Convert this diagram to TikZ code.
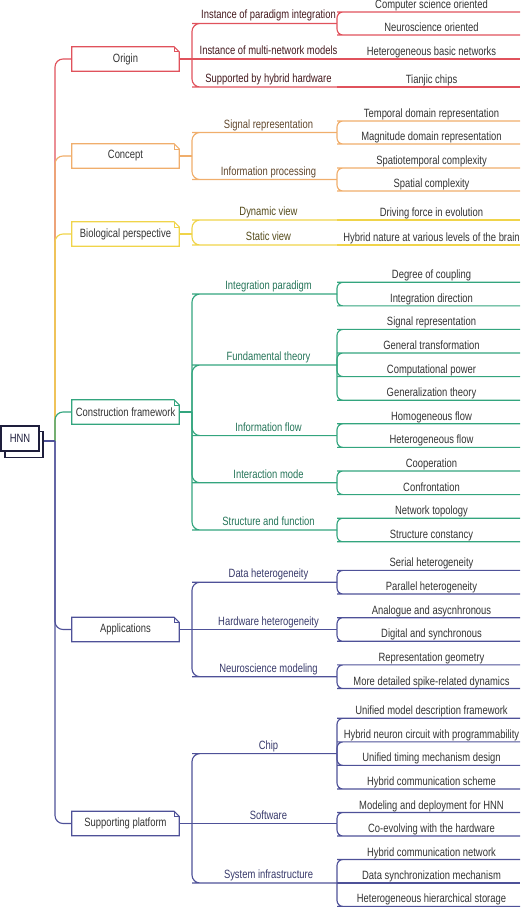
\documentclass[tikz,border=0pt]{standalone}
\usepackage{fontspec}
\setmainfont{Liberation Sans}[FakeStretch=0.785]
\definecolor{cred}{HTML}{E0525C}
\definecolor{corange}{HTML}{F0AE6C}
\definecolor{cyellow}{HTML}{F0D44A}
\definecolor{cgreen}{HTML}{33A57E}
\definecolor{cnavy}{HTML}{4E5198}
\definecolor{croot}{HTML}{1E1E3C}
\definecolor{leafc}{HTML}{333333}
\colorlet{credt}{cred!30!black}
\colorlet{coranget}{corange!40!black}
\colorlet{cyellowt}{cyellow!35!black}
\colorlet{cgreent}{cgreen!70!black}
\colorlet{cnavyt}{cnavy!70!black}
\newcommand\Ltwo[4]{\coordinate (#1-w) at (200,#2);\coordinate (#1-e) at (337,#2);\node[lab,text=#4] (#1) at (268.5,#2-4.5) {#3};}
\newcommand\Lthree[3]{\coordinate (#1-w) at (343,#2);\coordinate (#1-e) at (520,#2);\node[lab,text=leafc] (#1) at (431.5,#2-3.5) {#3};}
\newcommand\Kid[3]{\draw[ln=#3,rounded corners=6pt] (#1-e) |- (#2-w) -- (#2-e);}
\newcommand\Kidtwo[3]{\draw[ln=#3,rounded corners=8pt] (#1-b) |- (#2-w) -- (#2-e);}
\newcommand\Straight[3]{\draw[ln=#3] (#1-e) -- (#2-e);}
\newcommand\Fold[2]{\draw[ln=#2] (#1.south west) -- (#1.north west) -- ([xshift=-5pt]#1.north east) -- ([yshift=-5pt]#1.north east) -- (#1.south east) -- cycle;
\draw[draw=#2,line width=0.6pt] ([xshift=-5pt]#1.north east) -- ([xshift=-5pt,yshift=-5pt]#1.north east) -- ([yshift=-5pt]#1.north east);}
\begin{document}
\begin{tikzpicture}[x=1pt,y=-1pt,
  ln/.style={line width=1.15pt,draw=#1},
  lab/.style={anchor=base,inner sep=0pt,font=\fontsize{12}{14}\selectfont},
  tbox/.style={minimum width=107pt,minimum height=24pt,inner sep=0pt,font=\fontsize{12}{14}\selectfont,text=leafc},
  rootbox/.style={draw=croot,line width=1.1pt,minimum width=38pt,inner sep=0pt,font=\fontsize{12}{14}\selectfont,text=croot}]
\useasboundingbox (0,0) rectangle (520,907);

% root
\coordinate (trunk) at (55,441);
\node[rootbox,minimum height=26pt] (hnnback) at (24,444.5) {};
\node[rootbox,minimum height=25pt,fill=white] (hnn) at (20,438.5) {HNN};

% top-level boxes
\node[tbox] (origin) at (125.5,59) {Origin};
\node[tbox] (concept) at (125.5,156) {Concept};
\node[tbox] (bio) at (125.5,234) {Biological perspective};
\node[tbox] (constr) at (125.5,412) {Construction framework};
\node[tbox] (appl) at (125.5,629.5) {Applications};
\node[tbox] (supp) at (125.5,823.5) {Supporting platform};
\coordinate (origin-b) at (192,59);
\coordinate (concept-b) at (192,156);
\coordinate (bio-b) at (192,234);
\coordinate (constr-b) at (192,412);
\coordinate (appl-b) at (192,629.5);
\coordinate (supp-b) at (192,823.5);

% trunk connectors
\draw[ln=cred,rounded corners=8pt] (trunk) |- (origin.west);
\draw[ln=corange,rounded corners=8pt] (trunk) |- (concept.west);
\draw[ln=cyellow,rounded corners=8pt] (trunk) |- (bio.west);
\draw[ln=cgreen,rounded corners=8pt] (trunk) |- (constr.west);
\draw[ln=cnavy,rounded corners=8pt] (trunk) |- (supp.west);
\draw[ln=cnavy,rounded corners=8pt] (trunk) |- (appl.west);
\draw[ln=cnavy] (hnnback.east |- trunk) -- (trunk);

\Fold{origin}{cred}
\Fold{concept}{corange}
\Fold{bio}{cyellow}
\Fold{constr}{cgreen}
\Fold{appl}{cnavy}
\Fold{supp}{cnavy}

% ---------- Origin
\Ltwo{par}{23.5}{Instance of paradigm integration}{credt}
\Lthree{cso}{12}{Computer science oriented}
\Lthree{neu}{35}{Neuroscience oriented}
\Ltwo{mnm}{59}{Instance of multi-network models}{credt}
\Lthree{hbn}{59}{Heterogeneous basic networks}
\Ltwo{shh}{87}{Supported by hybrid hardware}{credt}
\Lthree{tj}{87}{Tianjic chips}
\draw[ln=cred] (origin.east) -- (hbn-e);
\Kidtwo{origin}{par}{cred}
\Kidtwo{origin}{shh}{cred}
\Kid{par}{cso}{cred}
\Kid{par}{neu}{cred}
\Straight{shh}{tj}{cred}

% ---------- Concept
\Ltwo{sig}{132.5}{Signal representation}{coranget}
\Lthree{tdr}{121}{Temporal domain representation}
\Lthree{mdr}{144}{Magnitude domain representation}
\Ltwo{inf}{179.5}{Information processing}{coranget}
\Lthree{stc}{168}{Spatiotemporal complexity}
\Lthree{spc}{191}{Spatial complexity}
\draw[ln=corange] (concept.east) -- (concept-b);
\Kidtwo{concept}{sig}{corange}
\Kidtwo{concept}{inf}{corange}
\Kid{sig}{tdr}{corange}
\Kid{sig}{mdr}{corange}
\Kid{inf}{stc}{corange}
\Kid{inf}{spc}{corange}

% ---------- Biological perspective
\Ltwo{dyn}{220}{Dynamic view}{cyellowt}
\Lthree{dfe}{220}{Driving force in evolution}
\Ltwo{stat}{245}{Static view}{cyellowt}
\Lthree{hyb}{245}{Hybrid nature at various levels of the brain}
\draw[ln=cyellow] (bio.east) -- (bio-b);
\Kidtwo{bio}{dyn}{cyellow}
\Kidtwo{bio}{stat}{cyellow}
\Straight{dyn}{dfe}{cyellow}
\Straight{stat}{hyb}{cyellow}

% ---------- Construction framework
\Ltwo{ip}{294}{Integration paradigm}{cgreent}
\Lthree{doc}{282.3}{Degree of coupling}
\Lthree{idir}{305.9}{Integration direction}
\Ltwo{ft}{365}{Fundamental theory}{cgreent}
\Lthree{sr}{329.4}{Signal representation}
\Lthree{gtr}{353}{General transformation}
\Lthree{cpw}{376.6}{Computational power}
\Lthree{gth}{400.2}{Generalization theory}
\Ltwo{iflow}{435.6}{Information flow}{cgreent}
\Lthree{hof}{423.8}{Homogeneous flow}
\Lthree{hef}{447.4}{Heterogeneous flow}
\Ltwo{imode}{482.8}{Interaction mode}{cgreent}
\Lthree{coop}{471}{Cooperation}
\Lthree{conf}{494.6}{Confrontation}
\Ltwo{sfun}{530}{Structure and function}{cgreent}
\Lthree{ntop}{518.2}{Network topology}
\Lthree{scon}{541.8}{Structure constancy}
\draw[ln=cgreen] (constr.east) -- (constr-b);
\Kidtwo{constr}{ip}{cgreen}
\Kidtwo{constr}{ft}{cgreen}
\Kidtwo{constr}{iflow}{cgreen}
\Kidtwo{constr}{imode}{cgreen}
\Kidtwo{constr}{sfun}{cgreen}
\Kid{ip}{doc}{cgreen}
\Kid{ip}{idir}{cgreen}
\Kid{ft}{sr}{cgreen}
\Kid{ft}{gtr}{cgreen}
\Kid{ft}{cpw}{cgreen}
\Kid{ft}{gth}{cgreen}
\Kid{iflow}{hof}{cgreen}
\Kid{iflow}{hef}{cgreen}
\Kid{imode}{coop}{cgreen}
\Kid{imode}{conf}{cgreen}
\Kid{sfun}{ntop}{cgreen}
\Kid{sfun}{scon}{cgreen}

% ---------- Applications
\Ltwo{dh}{582.2}{Data heterogeneity}{cnavyt}
\Lthree{ser}{570.4}{Serial heterogeneity}
\Lthree{parh}{594}{Parallel heterogeneity}
\Ltwo{hh}{629.5}{Hardware heterogeneity}{cnavyt}
\Lthree{ana}{617.7}{Analogue and asycnhronous}
\Lthree{dig}{641.3}{Digital and synchronous}
\Ltwo{nm}{676.7}{Neuroscience modeling}{cnavyt}
\Lthree{rg}{664.9}{Representation geometry}
\Lthree{mdd}{688.5}{More detailed spike-related dynamics}
\draw[ln=cnavy] (appl.east) -- (hh-e);
\Kidtwo{appl}{dh}{cnavy}
\Kidtwo{appl}{nm}{cnavy}
\Kid{dh}{ser}{cnavy}
\Kid{dh}{parh}{cnavy}
\Kid{hh}{ana}{cnavy}
\Kid{hh}{dig}{cnavy}
\Kid{nm}{rg}{cnavy}
\Kid{nm}{mdd}{cnavy}

% ---------- Supporting platform
\Ltwo{chip}{753.6}{Chip}{cnavyt}
\Lthree{umd}{718.3}{Unified model description framework}
\Lthree{hnc}{741.9}{Hybrid neuron circuit with programmability}
\Lthree{utm}{765.4}{Unified timing mechanism design}
\Lthree{hcs}{789}{Hybrid communication scheme}
\Ltwo{soft}{823.5}{Software}{cnavyt}
\Lthree{mdh}{812.5}{Modeling and deployment for HNN}
\Lthree{cev}{836}{Co-evolving with the hardware}
\Ltwo{sysi}{883}{System infrastructure}{cnavyt}
\Lthree{hcn}{859.5}{Hybrid communication network}
\Lthree{dsm}{883}{Data synchronization mechanism}
\Lthree{hhs}{906.4}{Heterogeneous hierarchical storage}
\draw[ln=cnavy] (supp.east) -- (soft-e);
\Kidtwo{supp}{chip}{cnavy}
\Kidtwo{supp}{sysi}{cnavy}
\Kid{chip}{umd}{cnavy}
\Kid{chip}{hnc}{cnavy}
\Kid{chip}{utm}{cnavy}
\Kid{chip}{hcs}{cnavy}
\Kid{soft}{mdh}{cnavy}
\Kid{soft}{cev}{cnavy}
\Kid{sysi}{hcn}{cnavy}
\Straight{sysi}{dsm}{cnavy}
\Kid{sysi}{hhs}{cnavy}
\end{tikzpicture}
\end{document}
